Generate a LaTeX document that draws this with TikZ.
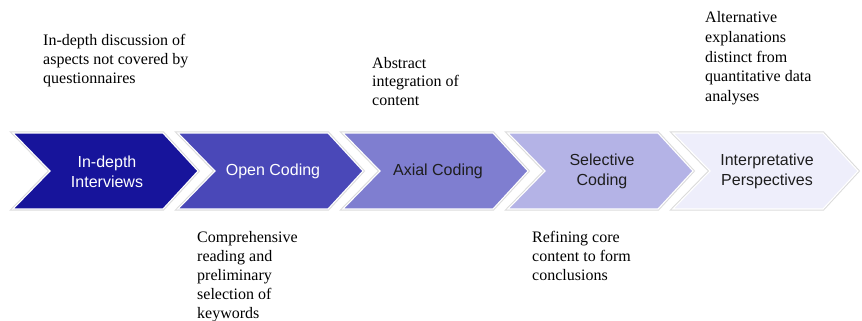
\documentclass[tikz,border=0pt]{standalone}
\usepackage{fontspec}
\setmainfont{Liberation Serif}
\setsansfont{Liberation Sans}
\definecolor{cA}{HTML}{17149B}
\definecolor{cB}{HTML}{4A48B8}
\definecolor{cC}{HTML}{7F7ED0}
\definecolor{cD}{HTML}{B4B3E6}
\definecolor{cE}{HTML}{EEEEFB}
\definecolor{darktext}{HTML}{1E1E1E}
\tikzset{
  halo/.style={draw=black!14, line width=3.2pt, line join=miter},
  chevfill/.style={draw=white, line width=1.1pt, line join=miter},
  steplabel/.style={font=\sffamily\fontsize{16}{20}\selectfont, align=center, inner sep=0pt},
  % multi-line notes are placed by the baseline of their last line
  note/.style={font=\fontsize{16}{19}\selectfont, align=left, anchor=base west, inner sep=0pt},
}
\begin{document}
\begin{tikzpicture}[x=1pt, y=-1pt]
  \useasboundingbox (0,0) rectangle (862,321);
  % five chevrons, each 185 wide with a 35 deep point and a 37 deep notch
  \foreach \n/\col in {0/cA, 1/cB, 2/cC, 3/cD, 4/cE} {
    \pgfmathsetmacro{\L}{13+165*\n}
    \draw[halo] (\L,133) -- ++(150,0) -- ++(35,38) -- ++(-35,38) -- ++(-150,0) -- ++(37,-38) -- cycle;
    \draw[chevfill, fill=\col] (\L,133) -- ++(150,0) -- ++(35,38) -- ++(-35,38) -- ++(-150,0) -- ++(37,-38) -- cycle;
  }
  % step labels
  \node[steplabel, text=white]    (s1) at (107,171.5) {In-depth\\Interviews};
  \node[steplabel, text=white]    (s2) at (273,171.5) {Open Coding};
  \node[steplabel, text=darktext] (s3) at (438,171.5) {Axial Coding};
  \node[steplabel, text=darktext] (s4) at (602,171.5) {Selective\\Coding};
  \node[steplabel, text=darktext] (s5) at (767,171.5) {Interpretative\\Perspectives};
  % notes above and below the steps
  \node[note] (n1) at (43,84)   {In-depth discussion of\\aspects not covered by\\questionnaires};
  \node[note] (n3) at (372,106) {Abstract\\integration of\\content};
  \node[note, font=\fontsize{16}{19.5}\selectfont] (n5) at (705,101) {Alternative\\explanations\\distinct from\\quantitative data\\analyses};
  \node[note] (n2) at (197,318) {Comprehensive\\reading and\\preliminary\\selection of\\keywords};
  \node[note] (n4) at (532,280) {Refining core\\content to form\\conclusions};
\end{tikzpicture}
\end{document}
